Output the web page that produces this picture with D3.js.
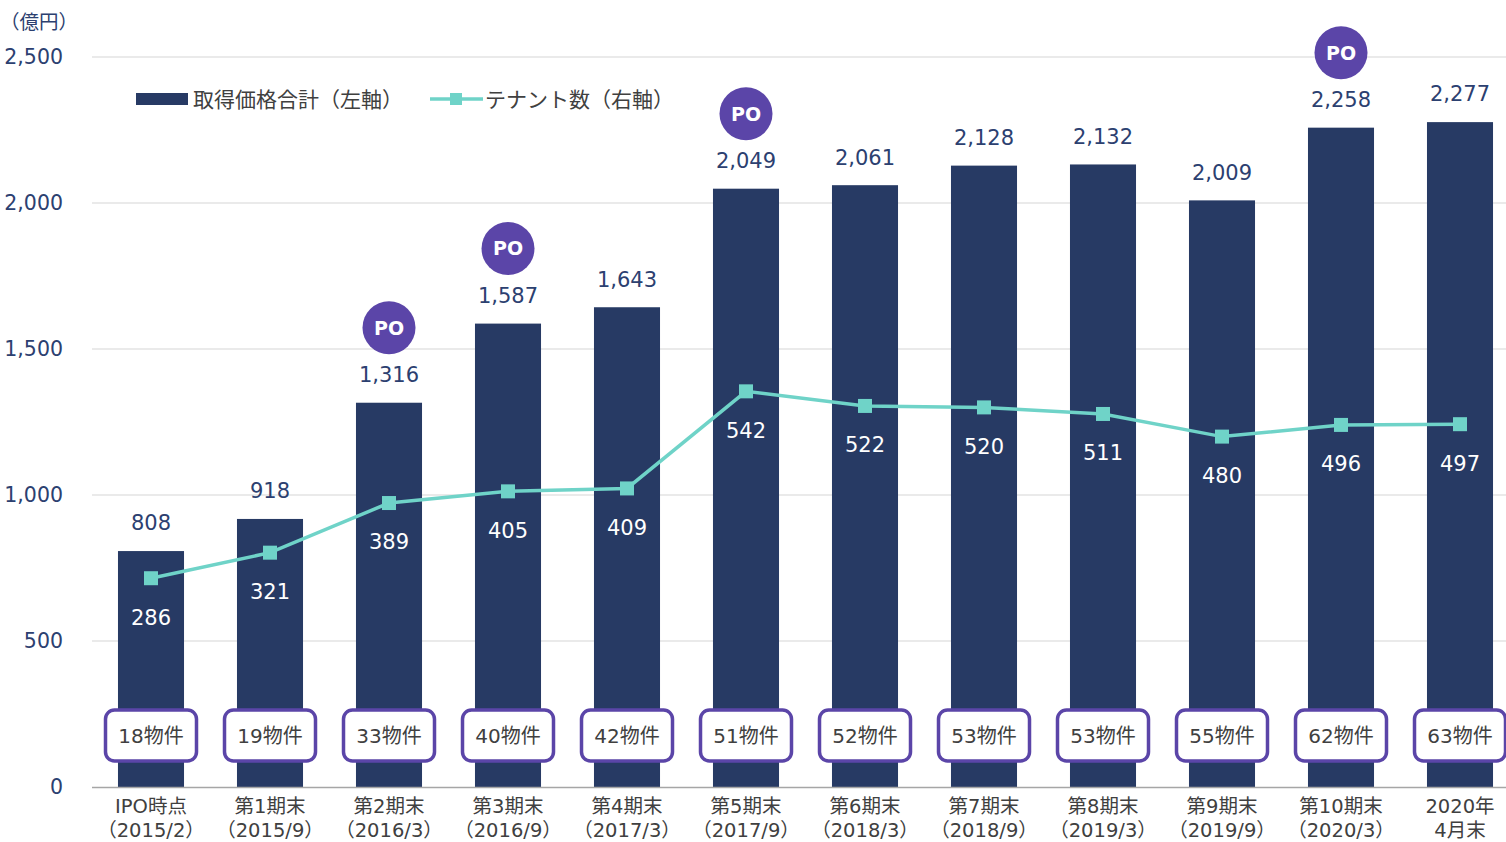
<!DOCTYPE html>
<html>
<head>
<meta charset="utf-8">
<script src="https://cdn.jsdelivr.net/npm/d3@7"></script>
<style>
  body { margin: 0; background: #fff; }
  text { font-family: "DejaVu Sans", Verdana, "Noto Sans CJK JP", sans-serif; }
</style>
</head>
<body>
<svg id="chart" width="1506" height="842"></svg>
<script>
var periods = ['IPO時点', '第1期末', '第2期末', '第3期末', '第4期末', '第5期末', '第6期末', '第7期末', '第8期末', '第9期末', '第10期末', '2020年'];
var subLabels = ['（2015/2）', '（2015/9）', '（2016/3）', '（2016/9）', '（2017/3）', '（2017/9）', '（2018/3）', '（2018/9）', '（2019/3）', '（2019/9）', '（2020/3）', '4月末'];
var price = [808, 918, 1316, 1587, 1643, 2049, 2061, 2128, 2132, 2009, 2258, 2277];
var tenants = [286, 321, 389, 405, 409, 542, 522, 520, 511, 480, 496, 497];
var properties = [18, 19, 33, 40, 42, 51, 52, 53, 53, 55, 62, 63];
var poFlags = [false, false, true, true, false, true, false, false, false, false, true, false];
var leftTicks = [0, 500, 1000, 1500, 2000, 2500];

var barColor = '#273a64', lineColor = '#6fd3c8', poColor = '#5b45a8';

var svg = d3.select('#chart');

var x = d3.scaleBand()
  .domain(periods)
  .range([91.5, 1519.5])
  .paddingInner(0.445)
  .paddingOuter(0.2225);

var y = d3.scaleLinear().domain([0, 2500]).range([787, 57]);
var y2 = d3.scaleLinear().domain([0, 1000]).range([787, 57]);

function cx(i) { return x(periods[i]) + x.bandwidth() / 2; }

// gridlines
svg.append('g').selectAll('line')
  .data(leftTicks.slice(1))
  .enter().append('line')
  .attr('x1', 92).attr('x2', 1506)
  .attr('y1', function(d){ return y(d); })
  .attr('y2', function(d){ return y(d); })
  .attr('stroke', '#e3e3e3')
  .attr('stroke-width', 1.5);

// left axis tick labels
svg.append('g').selectAll('text')
  .data(leftTicks)
  .enter().append('text')
  .attr('x', 63)
  .attr('y', function(d){ return y(d); })
  .attr('dy', '0.35em')
  .attr('text-anchor', 'end')
  .attr('font-size', 20.5)
  .attr('fill', '#2c4070')
  .text(function(d){ return d3.format(',')(d); });

svg.append('text')
  .attr('x', 0).attr('y', 29)
  .attr('font-size', 19.5)
  .attr('fill', '#2c4070')
  .text('（億円）');

// bars
svg.append('g').selectAll('rect')
  .data(price)
  .enter().append('rect')
  .attr('x', function(d, i){ return x(periods[i]); })
  .attr('y', function(d){ return y(d); })
  .attr('width', x.bandwidth())
  .attr('height', function(d){ return y(0) - y(d); })
  .attr('fill', barColor);

// baseline
svg.append('line')
  .attr('x1', 92).attr('x2', 1506)
  .attr('y1', 787.5).attr('y2', 787.5)
  .attr('stroke', '#a6a6a6')
  .attr('stroke-width', 1.5);

// price labels
svg.append('g').selectAll('text')
  .data(price)
  .enter().append('text')
  .attr('x', function(d, i){ return cx(i); })
  .attr('y', function(d){ return y(d) - 28; })
  .attr('dy', '0.35em')
  .attr('text-anchor', 'middle')
  .attr('font-size', 21)
  .attr('fill', '#2c4070')
  .text(function(d){ return d3.format(',')(d); });

// PO badges
var po = svg.append('g').selectAll('g')
  .data(price.map(function(d, i){ return {v: d, i: i}; }).filter(function(d){ return poFlags[d.i]; }))
  .enter().append('g')
  .attr('transform', function(d){ return 'translate(' + cx(d.i) + ',' + (y(d.v) - 75) + ')'; });
po.append('circle').attr('r', 26.5).attr('fill', poColor);
po.append('text')
  .attr('text-anchor', 'middle')
  .attr('dy', '0.36em')
  .attr('font-size', 19)
  .attr('font-weight', 'bold')
  .attr('fill', '#fff')
  .text('PO');

// tenant line
var line = d3.line()
  .x(function(d, i){ return cx(i); })
  .y(function(d){ return y2(d); });

svg.append('path')
  .datum(tenants)
  .attr('d', line)
  .attr('fill', 'none')
  .attr('stroke', lineColor)
  .attr('stroke-width', 3.5);

svg.append('g').selectAll('rect')
  .data(tenants)
  .enter().append('rect')
  .attr('x', function(d, i){ return cx(i) - 7; })
  .attr('y', function(d){ return y2(d) - 7; })
  .attr('width', 14).attr('height', 14)
  .attr('fill', lineColor);

svg.append('g').selectAll('text')
  .data(tenants)
  .enter().append('text')
  .attr('x', function(d, i){ return cx(i); })
  .attr('y', function(d){ return y2(d) + 39; })
  .attr('dy', '0.35em')
  .attr('text-anchor', 'middle')
  .attr('font-size', 21)
  .attr('fill', '#fff')
  .text(function(d){ return d; });

// property count boxes
var box = svg.append('g').selectAll('g')
  .data(properties)
  .enter().append('g')
  .attr('transform', function(d, i){ return 'translate(' + cx(i) + ',735.5)'; });
box.append('rect')
  .attr('x', -45.5).attr('y', -25.5)
  .attr('width', 91).attr('height', 51)
  .attr('rx', 9)
  .attr('fill', '#fff')
  .attr('stroke', poColor)
  .attr('stroke-width', 3.5);
box.append('text')
  .attr('text-anchor', 'middle')
  .attr('dy', '0.35em')
  .attr('font-size', 20)
  .attr('fill', '#404040')
  .text(function(d){ return d + '物件'; });

// category labels
var cat = svg.append('g').selectAll('text')
  .data(periods)
  .enter().append('text')
  .attr('x', function(d, i){ return cx(i); })
  .attr('text-anchor', 'middle')
  .attr('font-size', 19.5)
  .attr('fill', '#404040');
cat.append('tspan')
  .attr('x', function(d, i){ return cx(i); })
  .attr('y', 813)
  .text(function(d){ return d; });
cat.append('tspan')
  .attr('x', function(d, i){ return cx(i); })
  .attr('y', 837)
  .text(function(d, i){ return subLabels[i]; });

// legend
var legend = svg.append('g');
legend.append('rect')
  .attr('x', 136).attr('y', 93)
  .attr('width', 52).attr('height', 12)
  .attr('fill', barColor);
legend.append('text')
  .attr('x', 193).attr('y', 100)
  .attr('dy', '0.35em')
  .attr('font-size', 21)
  .attr('fill', '#404040')
  .text('取得価格合計（左軸）');
legend.append('line')
  .attr('x1', 430).attr('x2', 483)
  .attr('y1', 99).attr('y2', 99)
  .attr('stroke', lineColor)
  .attr('stroke-width', 3.5);
legend.append('rect')
  .attr('x', 450).attr('y', 93)
  .attr('width', 12).attr('height', 12)
  .attr('fill', lineColor);
legend.append('text')
  .attr('x', 485).attr('y', 100)
  .attr('dy', '0.35em')
  .attr('font-size', 21)
  .attr('fill', '#404040')
  .text('テナント数（右軸）');
</script>
</body>
</html>
